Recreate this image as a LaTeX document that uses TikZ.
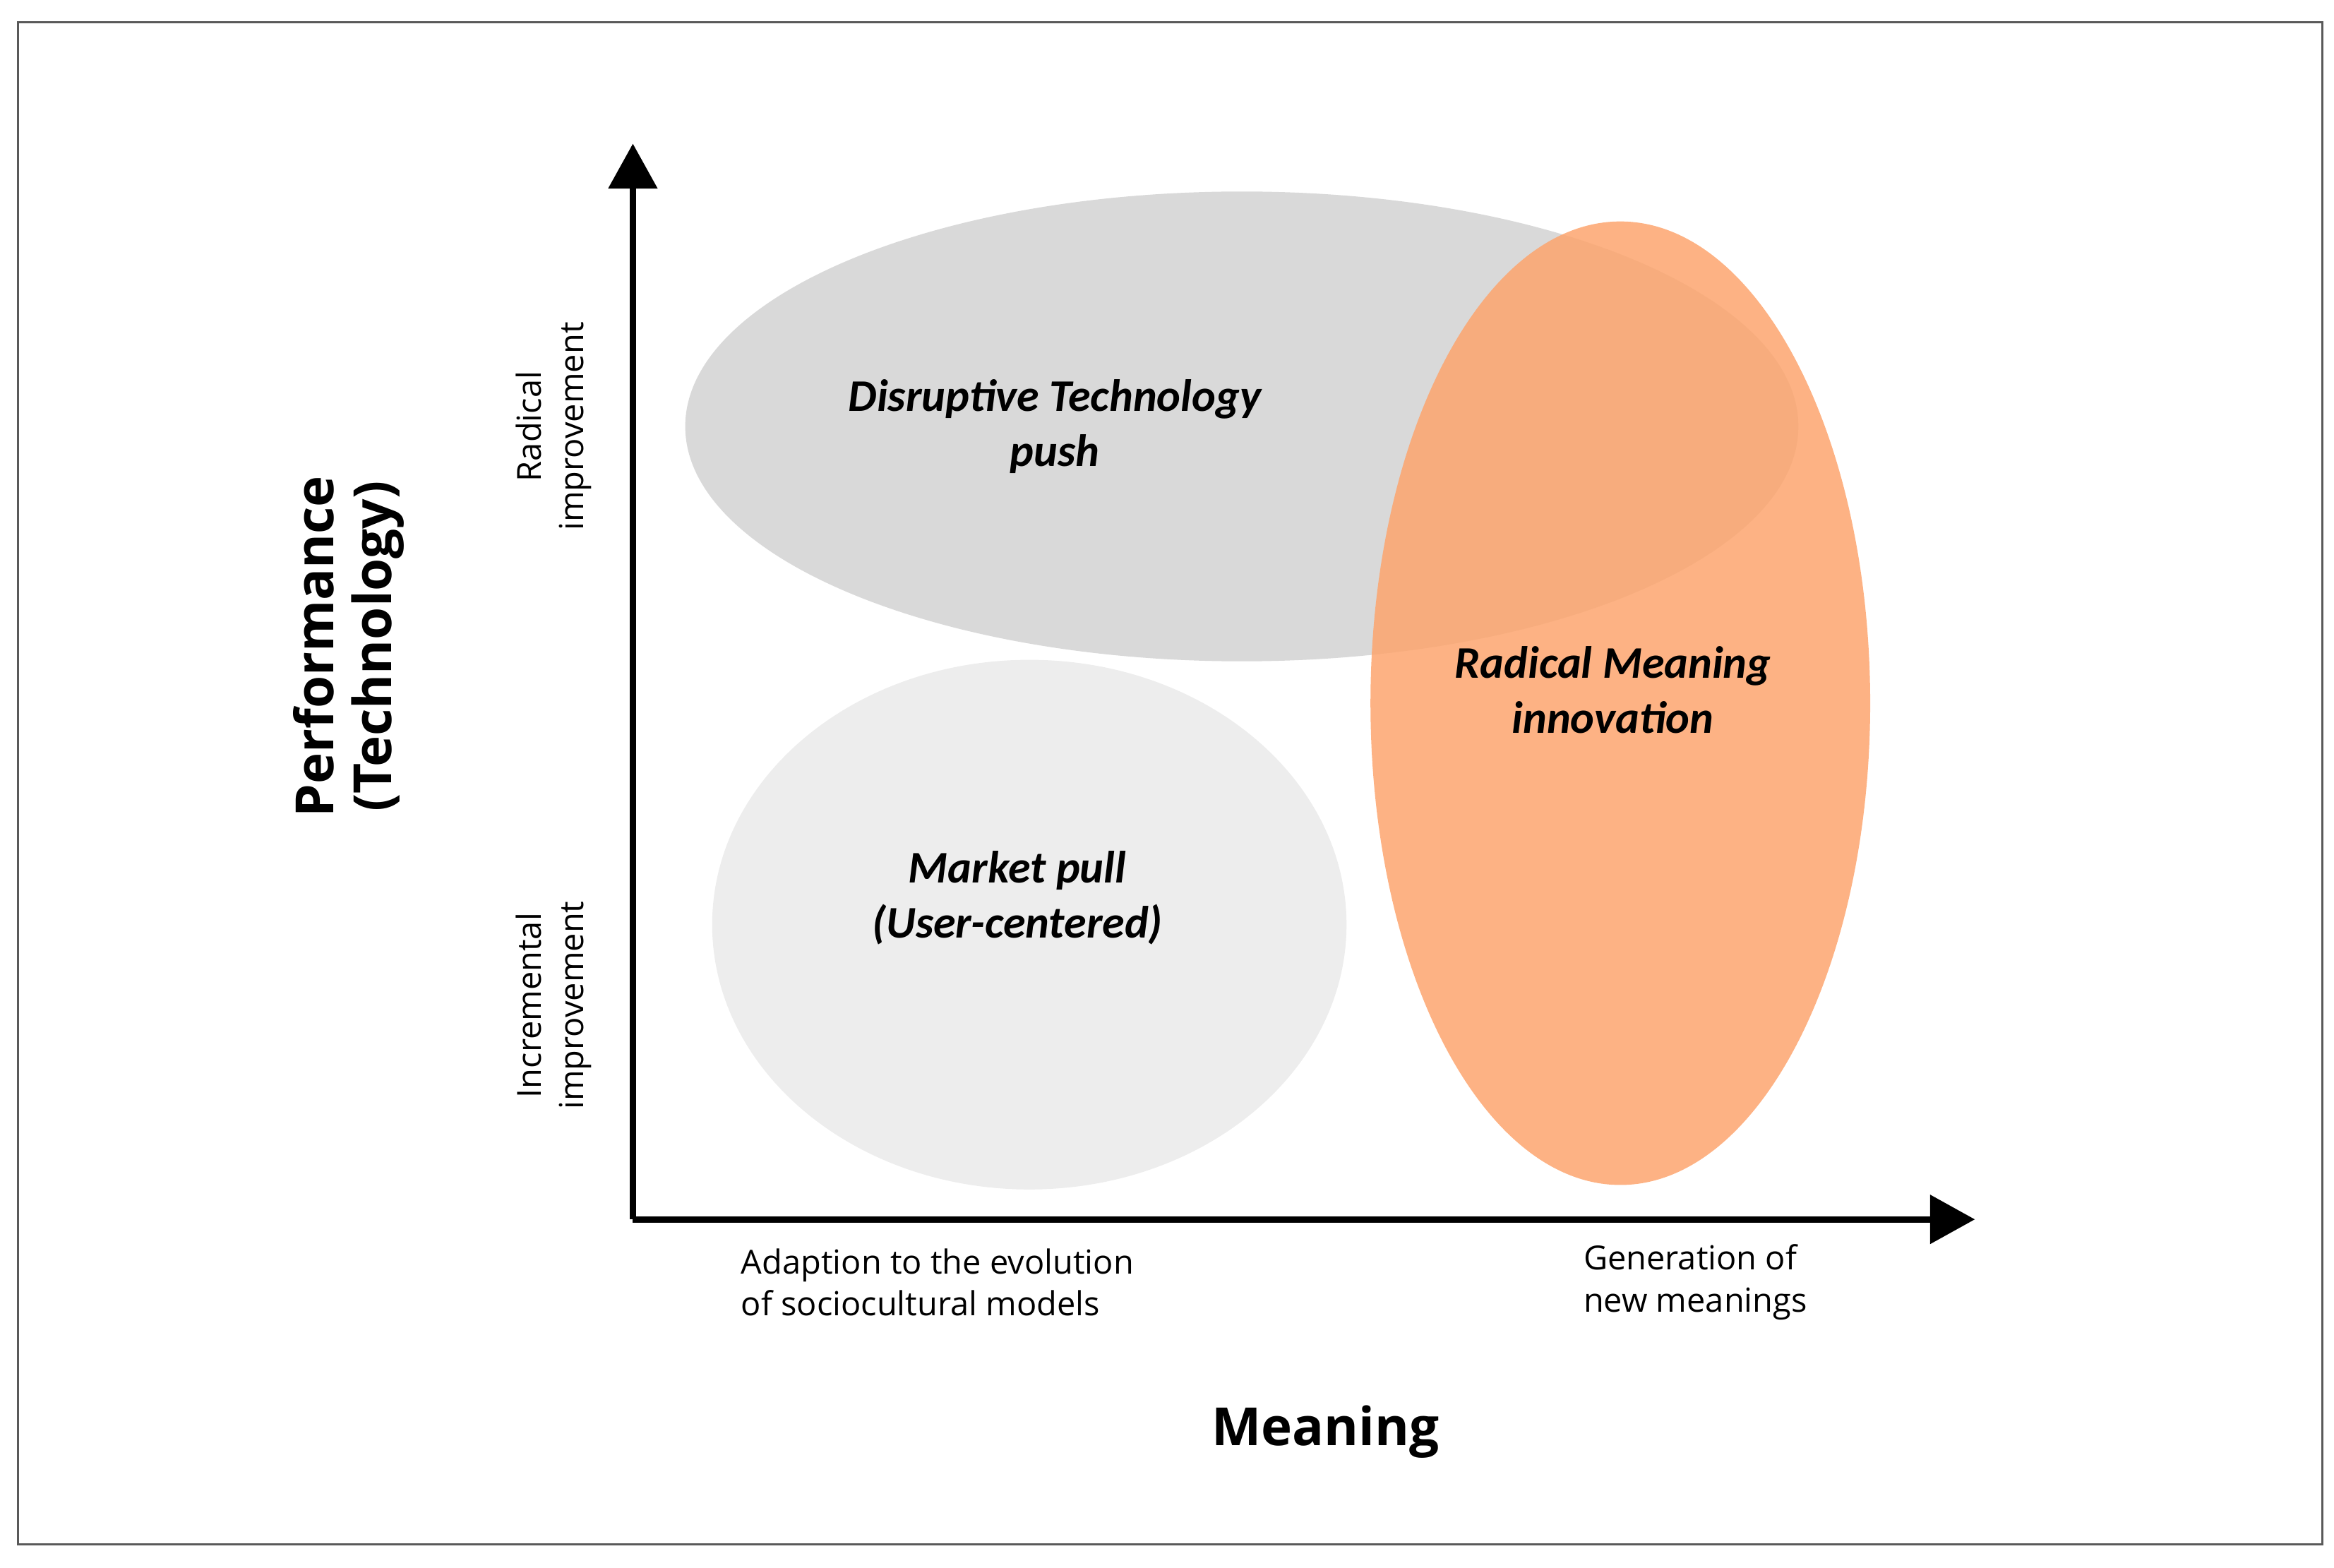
\documentclass[tikz,border=0pt]{standalone}
\usepackage{fontspec}
\setmainfont{Carlito}
\newfontfamily\lab{Open Sans}
\usetikzlibrary{arrows.meta}
\definecolor{dgray}{HTML}{D9D9D9}
\definecolor{lgray}{HTML}{EDEDED}
\definecolor{orng}{HTML}{FDA56E}
\begin{document}
\begin{tikzpicture}[x=0.01cm,y=-0.01cm,
  ax/.style={line width=1.2pt,-{Triangle[length=0.3cm,width=0.32cm]}},
  big/.style={font=\fontsize{8.6}{10.5}\selectfont\bfseries\itshape,align=center},
  sm/.style={font=\lab\fontsize{6.3}{8}\selectfont,align=left},
  ttl/.style={font=\lab\fontsize{10}{11}\selectfont\bfseries,align=center}]
\useasboundingbox (0,0) rectangle (1560,1048);
\draw[gray!70!black,line width=0.4pt] (12,15) rectangle (1552,1032);
\fill[dgray] (830,285) ellipse [x radius=372,y radius=157];
\fill[lgray] (688,618) ellipse [x radius=212,y radius=177];
\fill[orng,opacity=0.85] (1083,470) ellipse [x radius=167,y radius=322];
\coordinate (o) at (423,815);
\coordinate (yt) at (423,96);
\coordinate (xt) at (1320,815);
\draw[ax] (o) -- (yt);
\draw[ax] (o) -- (xt);
\node[big] (d) at (705,285) {Disruptive Technology\\push};
\node[big] (r) at (1078,461) {Radical Meaning\\innovation};
\node[big] (m) at (680,600) {Market pull\\(User-centered)};
\node[ttl,rotate=90] (p) at (233,432) {Performance\\(Technology)};
\node[sm,align=center,rotate=90] (ri) at (370,285) {Radical\\improvement};
\node[sm,align=center,rotate=90] (ii) at (370,672) {Incremental\\improvement};
\node[sm,anchor=west] (a) at (483,857) {Adaption to the evolution\\of sociocultural models};
\node[sm,anchor=west] (g) at (1046,857) {Generation of\\new meanings};
\node[ttl] (mm) at (886,957) {Meaning};
\end{tikzpicture}
\end{document}
